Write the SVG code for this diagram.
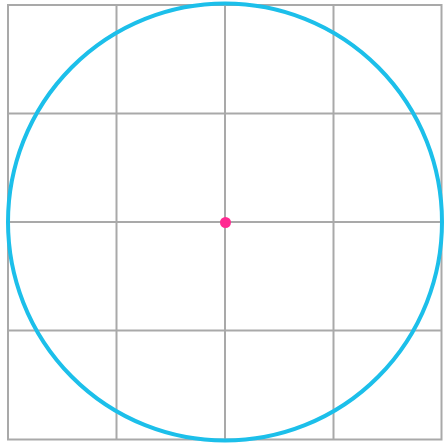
<svg xmlns="http://www.w3.org/2000/svg" width="444" height="448" viewBox="0 0 444 448">
<style>
.g{stroke:#a9a9a9;stroke-width:2;fill:none}
</style>
<rect width="444" height="448" fill="#ffffff"/>
<g id="grid" class="g">
<rect x="8" y="5" width="433.5" height="434.5"/>
<line x1="116.5" y1="5" x2="116.5" y2="439.5"/>
<line x1="225" y1="5" x2="225" y2="439.5"/>
<line x1="333.5" y1="5" x2="333.5" y2="439.5"/>
<line x1="8" y1="113.5" x2="441.5" y2="113.5"/>
<line x1="8" y1="222" x2="441.5" y2="222"/>
<line x1="8" y1="330.5" x2="441.5" y2="330.5"/>
</g>
<g id="circle">
<ellipse cx="225" cy="222" rx="217" ry="218.5" fill="none" stroke="#1cbfea" stroke-width="4"/>
</g>
<g id="center">
<circle cx="225.5" cy="222.5" r="5.5" fill="#ff2a92"/>
</g>
</svg>
